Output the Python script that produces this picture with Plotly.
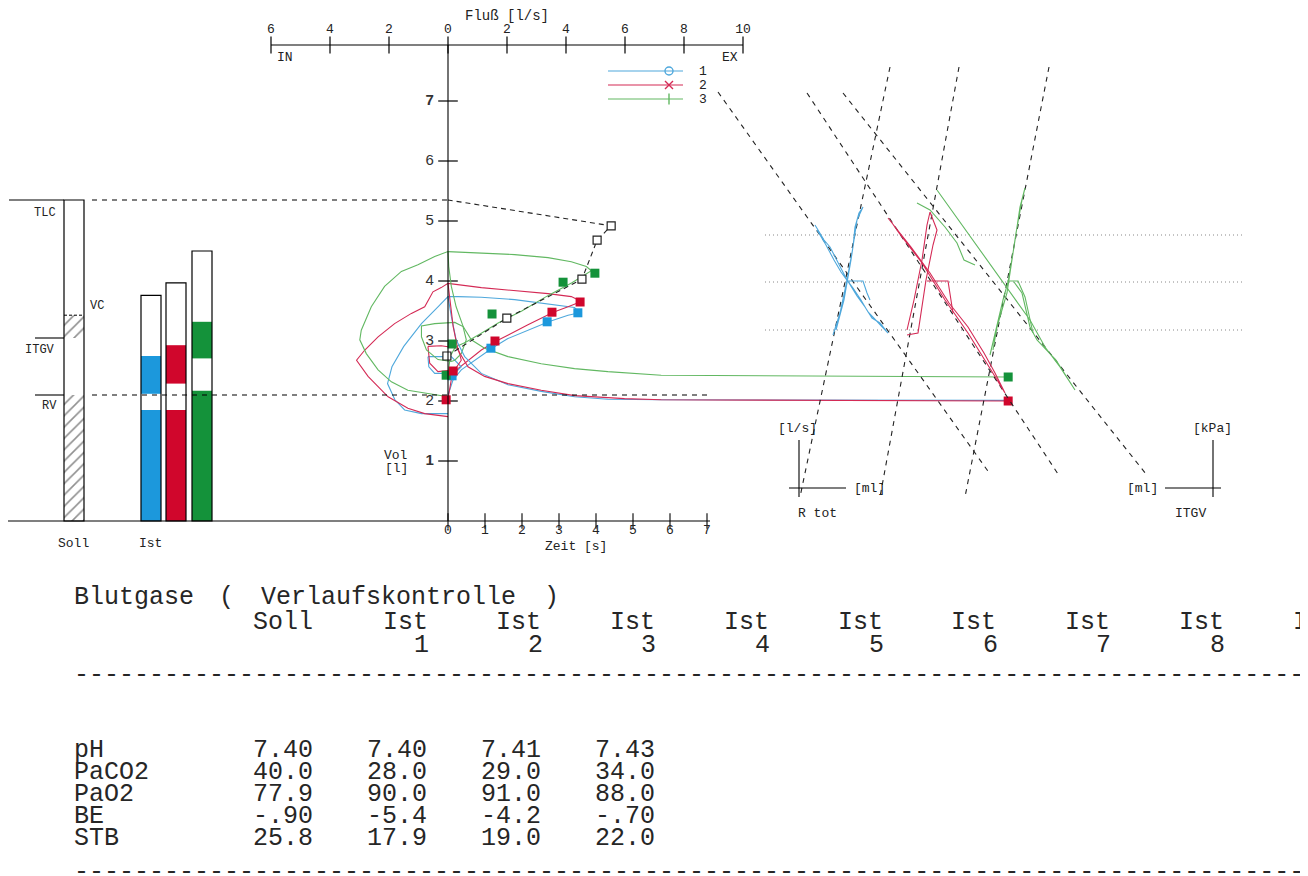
import plotly.graph_objects as go

# ---- sheet geometry (pixels of the printed sheet) ----
OFF = 8                      # the page body margin of the browser
W, H = 1308 - OFF, 876 - OFF
FLOW0_PX, FLOW_PX = 448, 29.5     # flow axis: 0 at x=448, 29.5 px per l/s
VOL0_PX, VOL_PX = 521, 60         # volume axis: 0 at y=521, 60 px per litre
TIME_PX = 37                      # time axis: 37 px per second

# ---------------- DATA ----------------
flow_ticks = [-6, -4, -2, 0, 2, 4, 6, 8, 10]
flow_tick_labels = ["6", "4", "2", "0", "2", "4", "6", "8", "10"]
vol_ticks = [1, 2, 3, 4, 5, 6, 7]
vol_tick_labels = ["<b>1</b>", "2", "3", "4", "5", "6", "<b>7</b>"]
time_ticks = [0, 1, 2, 3, 4, 5, 6, 7]

# lung volume bars (litres)
soll_rv, soll_itgv, soll_itgv_hi, soll_tlc = 2.10, 3.05, 3.43, 5.35
ist_names = ["1", "2", "3"]
ist_lower_top = [1.85, 1.85, 2.17]   # RV part
ist_gap_top = [2.12, 2.29, 2.71]     # white gap
ist_itgv_top = [2.75, 2.93, 3.32]    # ITGV
ist_tlc = [3.76, 3.97, 4.50]         # TLC (outline)

# flow-volume loops (flow l/s, volume l)
blue_fv_f = [0, -0.9, -1.47, -1.8, -2.05, -1.9, -1.5, -0.9, -0.34, 0, 0.34, 1.13, 2.26, 3.39, 4.29, 4.46,
             4.07, 3.41, 2.71, 2.03, 1.49, 0.9, 0.45, 0.17, 0]
blue_fv_v = [1.79, 1.79, 1.85, 2.02, 2.29, 2.57, 2.91, 3.29, 3.57, 3.74, 3.74, 3.73, 3.69, 3.62, 3.56, 3.47,
             3.43, 3.32, 3.18, 3.04, 2.88, 2.68, 2.52, 2.35, 2.10]
red_fv_f = [0, -0.79, -1.36, -2.03, -2.71, -3.1, -2.82, -2.37, -1.81, -1.24, -0.79, -0.51, -0.23, 0,
            1.13, 2.26, 3.39, 4.18, 4.52, 4.07, 3.57, 2.71, 2.03, 1.64, 1.13, 0.68, 0.34, 0.11, 0]
red_fv_v = [1.74, 1.79, 1.88, 2.07, 2.41, 2.68, 2.85, 3.07, 3.29, 3.46, 3.57, 3.82, 3.89, 3.96,
            3.89, 3.84, 3.79, 3.74, 3.66, 3.57, 3.48, 3.27, 3.10, 3.00, 2.85, 2.68, 2.54, 2.35, 2.03]
green_fv_f = [0, -0.68, -1.36, -1.92, -2.37, -2.77, -2.99, -2.94, -2.60, -2.15, -1.58, -1.02, -0.45, 0,
              1.13, 2.26, 3.39, 4.18, 4.69, 4.86, 4.2, 3.4, 2.5, 1.7, 1.1, 0.6, 0.25, 0.08, 0]
green_fv_v = [2.07, 2.12, 2.18, 2.32, 2.52, 2.79, 3.02, 3.18, 3.57, 3.91, 4.16, 4.27, 4.41, 4.49,
              4.47, 4.44, 4.39, 4.32, 4.24, 4.17, 3.97, 3.76, 3.50, 3.30, 3.12, 2.98, 2.90, 2.75, 2.45]
# tidal loops
blue_tid_f = [-0.68, 0.11, 0.45, 0.23, -0.45, -0.65, -0.68]
blue_tid_v = [2.74, 2.74, 2.57, 2.46, 2.46, 2.57, 2.74]
red_tid_f = [-0.68, -0.23, 0.34, 0.45, 0.23, -0.34, -0.62, -0.68]
red_tid_v = [2.91, 2.92, 2.88, 2.68, 2.52, 2.49, 2.63, 2.91]
green_tid_f = [0.11, -0.34, -0.73, -0.9, -0.9, -0.45, 0.23, 0.51, 0.62, 0.45, 0.23, 0.11]
green_tid_v = [2.66, 2.69, 2.85, 3.07, 3.25, 3.29, 3.31, 3.24, 3.02, 2.79, 2.68, 2.66]

# volume-time curves (s, l)
blue_vt_t = [0, 0.09, 0.22, 0.45, 0.90, 1.62, 2.52, 3.42, 4.32, 5.76, 15.14]
blue_vt_v = [3.74, 3.41, 3.02, 2.74, 2.46, 2.27, 2.16, 2.07, 2.03, 2.02, 2.01]
red_vt_t = [0, 0.05, 0.14, 0.27, 0.54, 0.99, 1.62, 2.52, 3.42, 4.77, 5.76, 15.14]
red_vt_v = [3.96, 3.68, 3.24, 2.85, 2.57, 2.41, 2.29, 2.18, 2.09, 2.04, 2.02, 2.00]
green_vt_t = [0, 0.02, 0.09, 0.22, 0.41, 0.63, 0.99, 1.62, 2.52, 3.42, 4.32, 5.76, 15.14]
green_vt_v = [4.49, 4.24, 3.91, 3.57, 3.24, 3.02, 2.88, 2.74, 2.62, 2.54, 2.49, 2.43, 2.40]

# timed volume points (s, l)
soll_sq_t = [-0.03, 1.59, 3.62, 4.03, 4.41]
soll_sq_v = [2.75, 3.38, 4.03, 4.68, 4.92]
blue_sq_t = [0.11, 1.16, 2.68, 3.51]
blue_sq_v = [2.42, 2.88, 3.32, 3.47]
red_sq_t = [-0.05, 0.14, 1.27, 2.81, 3.57, 15.14]
red_sq_v = [2.02, 2.50, 3.00, 3.48, 3.65, 2.00]
green_sq_t = [-0.05, 0.11, 1.19, 3.11, 3.97, 15.14]
green_sq_v = [2.43, 2.95, 3.45, 3.98, 4.13, 2.40]

# resistance / ITGV loops (sheet units)
blue_r1_x = [815, 824, 830, 838, 847, 853, 861, 868, 876, 888, 880, 872, 865, 857, 849, 841, 834, 826, 817]
blue_r1_y = [225, 240, 247, 262, 280, 288, 300, 312, 320, 333, 323, 318, 307, 296, 283, 272, 260, 245, 230]
blue_r2_x = [833, 840, 847, 853, 855, 859, 863, 857, 851, 844, 836]
blue_r2_y = [335, 313, 280, 247, 227, 213, 207, 220, 260, 300, 330]
blue_r3_x = [847, 863, 867, 870]
blue_r3_y = [281, 281, 293, 300]
red_r1_x = [888, 911, 930, 949, 968, 984, 995, 1005, 991, 968, 945, 922, 899, 890]
red_r1_y = [218, 247, 273, 303, 327, 353, 373, 393, 370, 333, 300, 263, 233, 220]
red_r2_x = [907, 918, 926, 933, 937, 930, 927, 922, 914, 907]
red_r2_y = [335, 333, 280, 245, 230, 212, 225, 260, 300, 330]
red_r3_x = [927, 948, 953]
red_r3_y = [281, 281, 313]
green_r1_x = [937, 968, 1007, 1030, 1045, 1060, 1075, 1056, 1037, 1030, 1022, 1014]
green_r1_y = [190, 233, 287, 320, 347, 367, 390, 360, 340, 327, 293, 282]
green_r2_x = [917, 930, 945, 957, 964, 975]
green_r2_y = [203, 210, 227, 243, 260, 265]
green_r3_x = [990, 995, 1003, 1008, 1014, 1020, 1025, 1022, 1016, 1007, 997, 993]
green_r3_y = [355, 333, 300, 282, 247, 207, 188, 200, 233, 293, 327, 350]
green_r4_x = [1007, 1018, 1025, 1033]
green_r4_y = [281, 281, 297, 333]
# reference slopes (sheet units, start/end)
steep_x = [(890, 800), (959, 880), (1049, 965)]
steep_y = [(67, 497), (67, 497), (67, 497)]
fall_x = [(718, 990), (807, 1058), (843, 1146)]
fall_y = [(92, 474), (93, 474), (93, 474)]
grid_y = [235, 282, 330]

# blood gas table
bg_params = ["pH", "PaCO2", "PaO2", "BE", "STB"]
bg_soll = ["7.40", "40.0", "77.9", "-.90", "25.8"]
bg_ist1 = ["7.40", "28.0", "90.0", "-5.4", "17.9"]
bg_ist2 = ["7.41", "29.0", "91.0", "-4.2", "19.0"]
bg_ist3 = ["7.43", "34.0", "88.0", "-.70", "22.0"]
bg_columns = ["Ist"] * 9
bg_column_numbers = [str(i) for i in range(1, 10)]

# ---------------- STYLE ----------------
C_BLUE, C_RED, C_GREEN = "#4fa8dc", "#d42a55", "#62b862"
S_BLUE, S_RED, S_GREEN = "#1c98dc", "#d0062c", "#14923a"
MONO = "Liberation Mono, Courier New, monospace"
SANS = "Liberation Sans, Arial, sans-serif"

fig = go.Figure()


def add(tr):
    fig.add_trace(tr)


def line(x, y, color, axes=("x", "y"), width=1.1, dash=None):
    add(go.Scatter(x=x, y=y, mode="lines", xaxis=axes[0], yaxis=axes[1], hoverinfo="skip",
                   line=dict(color=color, width=width, dash=dash), showlegend=False))


PAGE = ("x3", "y3")

# ---- bars (sheet x, volume y) ----
def bar(xc, base, top, color, pattern=None, outline=False):
    m = dict(color=color, line=dict(width=1.2 if outline else 0, color="black"))
    if pattern:
        m["pattern"] = dict(shape="/", fgcolor="#222", bgcolor="white", size=8, solidity=0.2)
    add(go.Bar(x=[xc], y=[top - base], base=[base], width=20, xaxis="x3", yaxis="y",
               marker=m, showlegend=False, hoverinfo="skip"))

sx = 74
bar(sx, 0, soll_rv, "white", pattern=True)
bar(sx, soll_itgv, soll_itgv_hi, "white", pattern=True)
bar(sx, 0, soll_tlc, "rgba(0,0,0,0)", outline=True)
for xc, col, a, b, c, t in zip([151, 176, 202], [S_BLUE, S_RED, S_GREEN],
                               ist_lower_top, ist_gap_top, ist_itgv_top, ist_tlc):
    bar(xc, 0, a, col)
    bar(xc, b, c, col)
    bar(xc, 0, t, "rgba(0,0,0,0)", outline=True)

# ---- reference lines of the volume panel ----
shapes = []
def seg(x0, y0, x1, y1, xref, yref, dash="solid", width=1.1, color="black"):
    shapes.append(dict(type="line", x0=x0, y0=y0, x1=x1, y1=y1, xref=xref, yref=yref,
                       line=dict(color=color, width=width, dash=dash), layer="above"))

seg(9, soll_tlc, 64, soll_tlc, "x3", "y")
seg(35, soll_itgv, 64, soll_itgv, "x3", "y")
seg(35, soll_rv, 64, soll_rv, "x3", "y")
seg(64, soll_itgv_hi, 84, soll_itgv_hi, "x3", "y", dash="3px,2px", width=1)
seg(92, soll_tlc, 448, soll_tlc, "x3", "y", dash="5px,5px")
seg(92, soll_rv, 710, soll_rv, "x3", "y", dash="5px,5px")
seg(8, 0, 710, 0, "x3", "y")
# axes
TOP_VOL = (VOL0_PX - 45) / VOL_PX
seg(-6, TOP_VOL, 10, TOP_VOL, "x", "y")
seg(0, 0, 0, TOP_VOL, "x", "y")

# ---- curves ----
for f, v, c in [(blue_fv_f, blue_fv_v, C_BLUE), (red_fv_f, red_fv_v, C_RED), (green_fv_f, green_fv_v, C_GREEN),
                (blue_tid_f, blue_tid_v, C_BLUE), (red_tid_f, red_tid_v, C_RED), (green_tid_f, green_tid_v, C_GREEN)]:
    line(f, v, c)
for t, v, c in [(green_vt_t, green_vt_v, C_GREEN), (blue_vt_t, blue_vt_v, C_BLUE), (red_vt_t, red_vt_v, C_RED)]:
    line(t, v, c, axes=("x2", "y"))

# predicted dashed line through open squares to TLC
line(soll_sq_t + [0], soll_sq_v + [soll_tlc], "#222", axes=("x2", "y"), width=1.1, dash="5px,4px")
add(go.Scatter(x=soll_sq_t, y=soll_sq_v, xaxis="x2", yaxis="y", mode="markers", showlegend=False,
               hoverinfo="skip", marker=dict(symbol="square", size=8, color="white",
                                              line=dict(color="#222", width=1.2))))
for t, v, c in [(blue_sq_t, blue_sq_v, S_BLUE), (green_sq_t, green_sq_v, S_GREEN), (red_sq_t, red_sq_v, S_RED)]:
    add(go.Scatter(x=t, y=v, xaxis="x2", yaxis="y", mode="markers", showlegend=False, hoverinfo="skip",
                   marker=dict(symbol="square", size=9, color=c)))

# ---- right panel ----
for gy in grid_y:
    line([765, 1245], [gy, gy], "#888", axes=PAGE, width=1, dash="1px,3px")
for (x0, x1), (y0, y1) in zip(steep_x + fall_x, steep_y + fall_y):
    line([x0, x1], [y0, y1], "#222", axes=PAGE, width=1.1, dash="5px,5px")
for x, y, c in [(blue_r1_x, blue_r1_y, C_BLUE), (blue_r2_x, blue_r2_y, C_BLUE), (blue_r3_x, blue_r3_y, C_BLUE),
                (red_r1_x, red_r1_y, C_RED), (red_r2_x, red_r2_y, C_RED), (red_r3_x, red_r3_y, C_RED),
                (green_r1_x, green_r1_y, C_GREEN), (green_r2_x, green_r2_y, C_GREEN),
                (green_r3_x, green_r3_y, C_GREEN), (green_r4_x, green_r4_y, C_GREEN)]:
    line(x, y, c, axes=PAGE)
seg(799, 440, 799, 497, "x3", "y3")
seg(789, 488, 846, 488, "x3", "y3")
seg(1213, 440, 1213, 497, "x3", "y3")
seg(1165, 488, 1221, 488, "x3", "y3")

# ---- tick marks ----
add(go.Scatter(x=flow_ticks, y=[TOP_VOL] * len(flow_ticks), mode="markers", showlegend=False,
               hoverinfo="skip", marker=dict(symbol="line-ns", size=12, line=dict(width=1.2, color="black"))))
add(go.Scatter(x=[0] * len(vol_ticks), y=vol_ticks, mode="markers", showlegend=False, hoverinfo="skip",
               marker=dict(symbol="line-ew", size=14, line=dict(width=1.2, color="black"))))
add(go.Scatter(x=time_ticks, y=[0] * len(time_ticks), xaxis="x2", yaxis="y", mode="markers", showlegend=False,
               hoverinfo="skip", marker=dict(symbol="line-ns", size=11, line=dict(width=1.1, color="black"))))
add(go.Scatter(x=flow_ticks, y=[(VOL0_PX - 30) / VOL_PX] * len(flow_ticks), mode="text",
               text=flow_tick_labels, showlegend=False, hoverinfo="skip",
               textfont=dict(family=MONO, size=13, color="#222")))
add(go.Scatter(x=[-0.62] * len(vol_ticks), y=vol_ticks, mode="text", text=vol_tick_labels,
               showlegend=False, hoverinfo="skip", textfont=dict(family=SANS, size=15, color="#333")))
add(go.Scatter(x=time_ticks, y=[-(531 - VOL0_PX) / VOL_PX] * len(time_ticks), xaxis="x2", yaxis="y",
               mode="text", text=[str(t) for t in time_ticks], showlegend=False, hoverinfo="skip",
               textfont=dict(family=MONO, size=13, color="#222")))

# ---- legend (drawn) ----
for yy, c, sym in [(71, C_BLUE, "circle-open"), (85, C_RED, "x-thin-open"), (99, C_GREEN, "line-ns-open")]:
    line([608, 683], [yy, yy], c, axes=PAGE, width=1.2)
    add(go.Scatter(x=[669], y=[yy], xaxis="x3", yaxis="y3", mode="markers", showlegend=False, hoverinfo="skip",
                   marker=dict(symbol=sym, size=8, color=c, line=dict(width=1.4, color="#444"))))

# ---- texts ----
ann = []
def txt(x, y, s, size=13, anchor="center", family=MONO, color="#222"):
    ann.append(dict(x=x, y=y, xref="x3", yref="y3", text=s.replace(" ", "\u00a0"), showarrow=False,
                    xanchor=anchor, yanchor="middle", font=dict(family=family, size=size, color=color)))

txt(507, 16, "Fluß [l/s]", size=14)
txt(285, 57, "IN")
txt(730, 57, "EX")
for yy, lab in [(71, "1"), (85, "2"), (99, "3")]:
    txt(703, yy, lab)
txt(45, 213, "TLC", size=12)
txt(97, 306, "VC", size=12)
txt(40, 350, "ITGV", size=12)
txt(49, 406, "RV", size=12)
txt(73, 543, "Soll")
txt(150, 543, "Ist")
txt(396, 455, "Vol")
txt(396, 468, "[l]")
txt(576, 546, "Zeit [s]")
txt(797, 428, "[l/s]")
txt(869, 488, "[ml]")
txt(817, 513, "R tot")
txt(1212, 428, "[kPa]")
txt(1142, 488, "[ml]")
txt(1190, 513, "ITGV")

# blood gas table: printer columns (monospace grid)
TS, COL_W, TX0 = 25, 16.25, 72
PAGE_RIGHT = 1306
def cell(col, y, s, left=False):
    x_left = TX0 + col * COL_W
    x_mid = TX0 + (col + len(s) / 2) * COL_W
    if left or x_mid > PAGE_RIGHT:
        txt(x_left, y, s, size=TS, anchor="left", color="#262626")
    else:   # centre the token on its printer columns
        txt(x_mid, y, s, size=TS, color="#262626")

cell(0, 597, "Blutgase", left=True)
cell(9, 597, "(")
cell(11, 597, "Verlaufskontrolle")
cell(29, 597, ")")
cell(11, 622, "Soll")
for k, (h, n) in enumerate(zip(bg_columns, bg_column_numbers)):
    if TX0 + (19 + 7 * k) * COL_W < PAGE_RIGHT:
        cell(19 + 7 * k, 622, h)
    if TX0 + (21 + 7 * k) * COL_W < PAGE_RIGHT:
        cell(21 + 7 * k, 645, n)
n_dash = int((PAGE_RIGHT - TX0) / (0.6 * TS))
for yy in (675, 872):
    txt(TX0, yy, "-" * n_dash, size=TS, anchor="left", color="#262626")
for yy, p, s, a, b, c in zip([750, 772, 794, 816, 838], bg_params, bg_soll, bg_ist1, bg_ist2, bg_ist3):
    cell(0, yy, p, left=True)
    cell(11, yy, s)
    cell(22 - len(a), yy, a)
    cell(29 - len(b), yy, b)
    cell(36 - len(c), yy, c)

fig.update_layout(
    width=W, height=H, margin=dict(l=0, r=0, t=0, b=0), paper_bgcolor="white", plot_bgcolor="white",
    showlegend=False, barmode="overlay", shapes=shapes, annotations=ann,
    xaxis=dict(range=[(OFF - FLOW0_PX) / FLOW_PX, (OFF + W - FLOW0_PX) / FLOW_PX], visible=False, domain=[0, 1]),
    yaxis=dict(range=[(VOL0_PX - OFF - H) / VOL_PX, (VOL0_PX - OFF) / VOL_PX], visible=False, domain=[0, 1]),
    xaxis2=dict(range=[(OFF - FLOW0_PX) / TIME_PX, (OFF + W - FLOW0_PX) / TIME_PX], overlaying="x",
                visible=False, anchor="y"),
    xaxis3=dict(range=[OFF, OFF + W], overlaying="x", visible=False, anchor="y"),
    yaxis3=dict(range=[OFF + H, OFF], overlaying="y", visible=False, anchor="x"),
)
fig.write_html("out.html")
